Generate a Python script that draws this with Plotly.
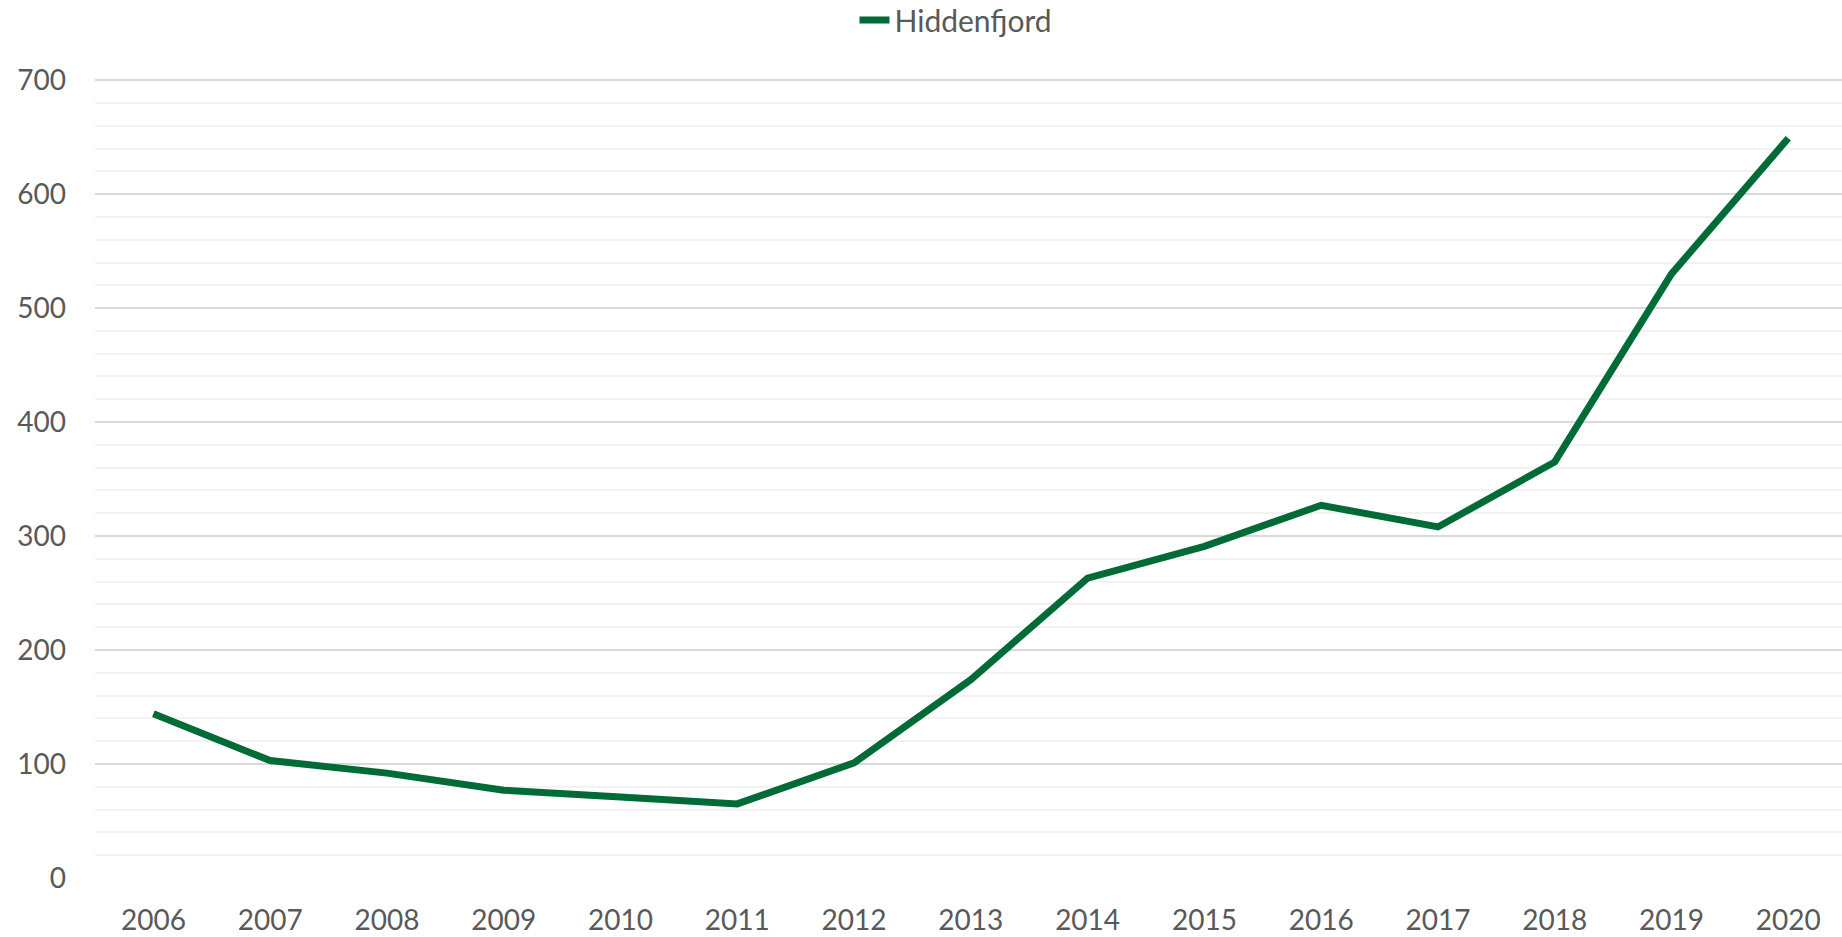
import plotly.graph_objects as go

years = ["2006", "2007", "2008", "2009", "2010", "2011", "2012", "2013",
         "2014", "2015", "2016", "2017", "2018", "2019", "2020"]
hiddenfjord = [144, 103, 92, 77, 71, 65, 101, 174, 263, 291, 327, 308, 365, 530, 649]
y_ticks = [0, 100, 200, 300, 400, 500, 600, 700]

FONT = "Lato, Open Sans, Liberation Sans, sans-serif"
TXT = "#595959"

fig = go.Figure()
fig.add_trace(go.Scatter(
    x=years, y=hiddenfjord, mode="lines", name="Hiddenfjord",
    line=dict(color="#006B36", width=7),
))

fig.update_layout(
    width=1842, height=937,
    margin=dict(l=95, r=0, t=79, b=59),
    paper_bgcolor="white", plot_bgcolor="white",
    font=dict(family=FONT, size=28, color=TXT),
    showlegend=True,
    legend=dict(orientation="h", xref="container", yref="container",
                x=0.519, xanchor="center", y=1 - 20 / 937, yanchor="middle",
                font=dict(family=FONT, size=30, color=TXT),
                bgcolor="rgba(0,0,0,0)"),
    xaxis=dict(type="category", range=[-0.5, len(years) - 0.54],
               showgrid=False, zeroline=False, showline=False,
               ticks="", ticklabelstandoff=23,
               tickfont=dict(family=FONT, size=28, color=TXT)),
    yaxis=dict(range=[0, 701], tickvals=y_ticks, showgrid=True,
               gridcolor="#D9D9D9", gridwidth=2, zeroline=False, showline=False,
               ticks="", ticklabelstandoff=28,
               tickfont=dict(family=FONT, size=28, color=TXT),
               minor=dict(dtick=20, showgrid=True, gridcolor="#F2F2F2", gridwidth=2)),
)

fig.write_html("out.html", config={"displayModeBar": False},
               post_script="document.body.style.margin='0';")
